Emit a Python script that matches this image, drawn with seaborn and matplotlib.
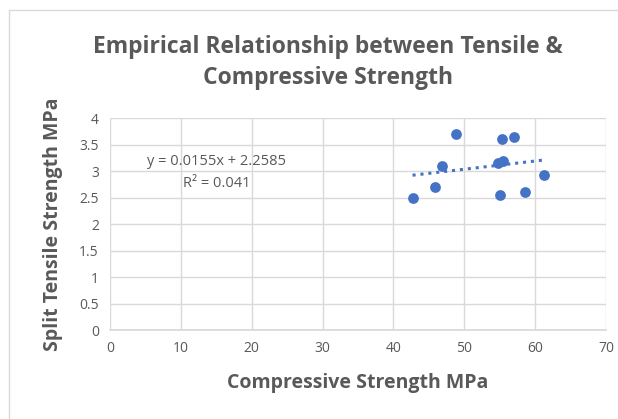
import matplotlib
matplotlib.use("Agg")
import matplotlib.pyplot as plt
import seaborn as sns
import numpy as np
import pandas as pd
from matplotlib.lines import Line2D

compressive = [42.7, 45.9, 46.9, 48.9, 55.3, 57.0, 54.8, 55.4, 55.0, 58.5, 61.2]
tensile = [2.50, 2.70, 3.10, 3.70, 3.60, 3.65, 3.15, 3.18, 2.55, 2.60, 2.93]
slope = 0.0155
intercept = 2.2585
eq_text = "y = 0.0155x + 2.2585"
r2_text = "R² = 0.041"
x_ticks = [0, 10, 20, 30, 40, 50, 60, 70]
y_ticks = [0, 0.5, 1, 1.5, 2, 2.5, 3, 3.5, 4]
y_tick_labels = ["0", "0.5", "1", "1.5", "2", "2.5", "3", "3.5", "4"]

df = pd.DataFrame({"Compressive": compressive, "Tensile": tensile})

sns.set_theme(style="white")
plt.rcParams['font.family'] = ['Open Sans', 'DejaVu Sans']

fig = plt.figure(figsize=(6.18, 4.19), dpi=100)
ax = fig.add_axes([110 / 618, 1 - 330 / 419, (606 - 110) / 618, (330 - 118) / 419])

gray = "#595959"
grid = "#d9d9d9"
blue = "#4472C4"

sns.scatterplot(data=df, x="Compressive", y="Tensile", ax=ax, color=blue,
                s=60, edgecolor=blue, linewidth=0, zorder=3)

xs = np.array([min(compressive), max(compressive)])
ax.plot(xs, slope * xs + intercept, color=blue, linestyle=(0, (1, 1.6)),
        linewidth=2.2, zorder=2)

ax.set_xlim(0, 70)
ax.set_ylim(0, 4)
ax.set_xticks(x_ticks)
ax.set_yticks(y_ticks)
ax.set_yticklabels(y_tick_labels)
ax.grid(True, color=grid, linewidth=1)
ax.set_axisbelow(True)
for sp in ["top", "right", "left"]:
    ax.spines[sp].set_visible(False)
ax.spines["bottom"].set_color(grid)
ax.tick_params(axis="both", colors=gray, labelsize=10, length=0, pad=8)

ax.set_xlabel("Compressive Strength MPa", color=gray, fontsize=14,
              fontweight="bold", labelpad=12)
ax.set_ylabel("Split Tensile Strength MPa", color=gray, fontsize=14,
              fontweight="bold", labelpad=12)

ax.text(15.1, 3.17, eq_text, ha="center", va="center", color=gray, fontsize=10.5)
ax.text(15.1, 2.77, r2_text, ha="center", va="center", color=gray, fontsize=10.5)

fig.text(328 / 618, 1 - 47 / 419, "Empirical Relationship between Tensile &",
         ha="center", va="center", color=gray, fontsize=16.5, fontweight="bold")
fig.text(328 / 618, 1 - 78 / 419, "Compressive Strength",
         ha="center", va="center", color=gray, fontsize=16.5, fontweight="bold")

fig.add_artist(Line2D([9 / 618, 9 / 618], [0, 1 - 10 / 419],
                      transform=fig.transFigure, color=grid, linewidth=1))
fig.add_artist(Line2D([9 / 618, 1], [1 - 10 / 419, 1 - 10 / 419],
                      transform=fig.transFigure, color=grid, linewidth=1))

fig.savefig("out.png", dpi=100)
